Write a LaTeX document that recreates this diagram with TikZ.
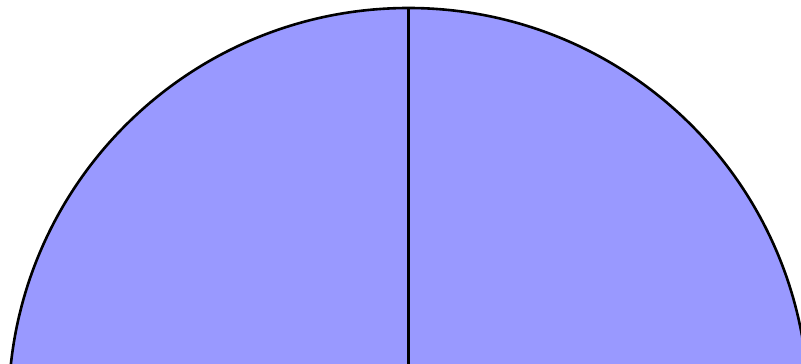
\documentclass[tikz,border=0pt]{standalone}
\usepackage{tikz}

\begin{document}
\begin{tikzpicture}[x=1pt, y=1pt]
  \useasboundingbox (0,0) rectangle (801,364);
  \clip (0,0) rectangle (801,364);
  \coordinate (O) at (408.5,-44);
  \filldraw[fill=blue!40, draw=black, line width=2.6pt] (O) circle (400);
  \draw[line width=2.6pt] (O) -- (408.5,356);
\end{tikzpicture}
\end{document}
